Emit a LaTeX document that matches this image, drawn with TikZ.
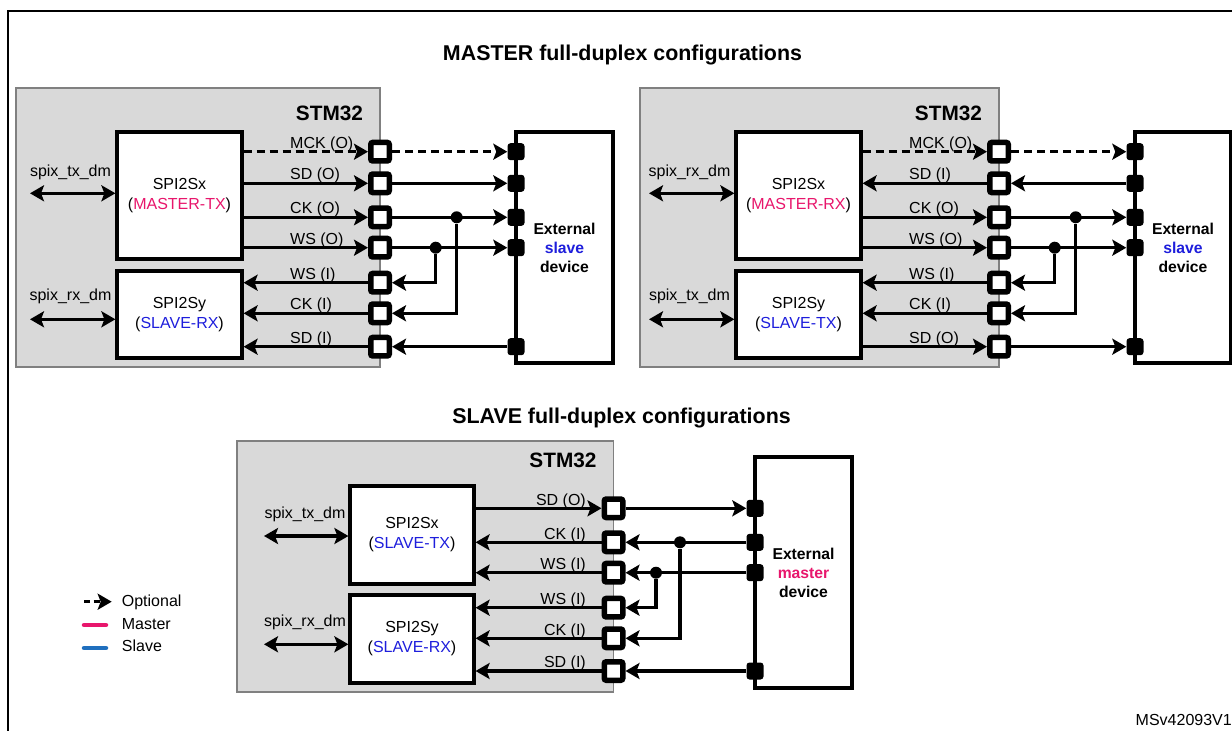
\documentclass[tikz,border=0pt]{standalone}
\usepackage{fontspec}
\setmainfont{Liberation Sans}
\usetikzlibrary{arrows.meta}
\definecolor{mpink}{RGB}{232,22,108}
\definecolor{sblue}{RGB}{30,30,220}
\definecolor{lblue}{RGB}{31,111,190}
\definecolor{chipgray}{RGB}{217,217,217}
\definecolor{chipedge}{RGB}{128,128,128}
\begin{document}
\begin{tikzpicture}[x=1pt,y=-1pt,
  every node/.style={inner sep=0pt},
  txt/.style={font=\fontsize{16}{20}\selectfont},
  heading/.style={font=\bfseries\fontsize{21.4}{25}\selectfont},
  chipname/.style={font=\bfseries\fontsize{20.8}{25}\selectfont},
  chip/.style={draw=chipedge, fill=chipgray, line width=1.2},
  spibox/.style={draw, fill=white, line width=3.2, align=center, font=\fontsize{16}{20}\selectfont},
  extbox/.style={draw, fill=white, line width=3.2, align=center, font=\bfseries\fontsize{15.7}{19}\selectfont},
  iopin/.style={draw, line width=5.5, fill=white, rounded corners=2, minimum size=18.5},
  epin/.style={fill=black, rounded corners=3, minimum size=17},
  jdot/.style={circle, fill=black, minimum size=12},
  sig/.style={line width=3.2, -{Stealth[length=14pt,width=16pt,inset=3pt]}},
  optsig/.style={sig, dash pattern=on 8pt off 5pt},
  bus/.style={line width=3.2, {Stealth[length=14pt,width=16pt,inset=3pt]}-{Stealth[length=14pt,width=16pt,inset=3pt]}},
  lblw/.style={txt, anchor=base west},
  lble/.style={txt, anchor=base east}
]
\useasboundingbox (0,0) rectangle (1232,731);
\fill[white] (0,0) rectangle (1232,731);
% frame
\draw[line width=2] (8,731) -- (8,11) -- (1232,11);

% headings
\node[heading] (H1) at (622.5,55) {MASTER full-duplex configurations};
\node[heading] (H2) at (621.5,418) {SLAVE full-duplex configurations};

%================ TOP LEFT: MASTER-TX ================
\node[chip, minimum width=364, minimum height=279] (G1) at (198,227.5) {};
\node[chipname] (N1) at (329.5,113) {STM32};
\node[spibox, minimum width=125, minimum height=127] (SX1) at (179.5,195.5) {SPI2Sx\\(\textcolor{mpink}{MASTER-TX})};
\node[spibox, minimum width=125, minimum height=87] (SY1) at (179.5,314.5) {SPI2Sy\\(\textcolor{sblue}{SLAVE-RX})};
\node[extbox, minimum width=97, minimum height=231] (X1) at (564.5,247.5) {External\\\textcolor{sblue}{slave}\\device};

\node[txt] (S1) at (70.5,172.7) {spix\_tx\_dm};
\node[txt] (S2) at (70.5,296.7) {spix\_rx\_dm};
\coordinate (B1) at (30,193.3);
\coordinate (B2) at (30,319.3);
\draw[bus] (B1) -- (SX1.west |- B1);
\draw[bus] (B2) -- (SY1.west |- B2);

\node[iopin] (P1) at (380,151.7) {};
\node[iopin] (P2) at (380,183.3) {};
\node[iopin] (P3) at (380,217.3) {};
\node[iopin] (P4) at (380,247.7) {};
\node[iopin] (P5) at (380,282.7) {};
\node[iopin] (P6) at (380,313.3) {};
\node[iopin] (P7) at (380,346.7) {};
\node[epin] (E1) at (516,151.7) {};
\node[epin] (E2) at (516,183.3) {};
\node[epin] (E3) at (516,217.3) {};
\node[epin] (E4) at (516,247.7) {};
\node[epin] (E7) at (516,346.7) {};
\node[jdot] (J1) at (456.7,217.3) {};
\node[jdot] (J2) at (435.7,247.7) {};

\draw[optsig] (SX1.east |- P1) -- (P1.west);
\draw[optsig] (P1.east) -- (E1.west);
\draw[sig] (SX1.east |- P2) -- (P2.west);
\draw[sig] (P2.east) -- (E2.west);
\draw[sig] (SX1.east |- P3) -- (P3.west);
\draw[sig] (P3.east) -- (E3.west);
\draw[sig] (SX1.east |- P4) -- (P4.west);
\draw[sig] (P4.east) -- (E4.west);
\draw[sig] (P5.west) -- (SY1.east |- P5);
\draw[sig] (J2) |- (P5.east);
\draw[sig] (P6.west) -- (SY1.east |- P6);
\draw[sig] (J1) |- (P6.east);
\draw[sig] (P7.west) -- (SY1.east |- P7);
\draw[sig] (E7.west) -- (P7.east);

\node[lblw] (L11) at (290,148) {MCK (O)};
\node[lblw] (L12) at (290,179.8) {SD (O)};
\node[lblw] (L13) at (290,213.8) {CK (O)};
\node[lblw] (L14) at (290,244.2) {WS (O)};
\node[lblw] (L15) at (290,279.2) {WS (I)};
\node[lblw] (L16) at (290,309.8) {CK (I)};
\node[lblw] (L17) at (290,343.2) {SD (I)};

%================ TOP RIGHT: MASTER-RX ================
\node[chip, minimum width=359, minimum height=279] (G2) at (819.5,227.5) {};
\node[chipname] (N2) at (948.5,113) {STM32};
\node[spibox, minimum width=125, minimum height=127] (SX2) at (798.5,195.5) {SPI2Sx\\(\textcolor{mpink}{MASTER-RX})};
\node[spibox, minimum width=125, minimum height=87] (SY2) at (798.5,314.5) {SPI2Sy\\(\textcolor{sblue}{SLAVE-TX})};
\node[extbox, minimum width=96, minimum height=231] (X2) at (1183,247.5) {External\\\textcolor{sblue}{slave}\\device};

\node[txt] (S3) at (689.5,172.7) {spix\_rx\_dm};
\node[txt] (S4) at (689.5,296.7) {spix\_tx\_dm};
\coordinate (B3) at (649,193.3);
\coordinate (B4) at (649,319.3);
\draw[bus] (B3) -- (SX2.west |- B3);
\draw[bus] (B4) -- (SY2.west |- B4);

\node[iopin] (Q1) at (999,151.7) {};
\node[iopin] (Q2) at (999,183.3) {};
\node[iopin] (Q3) at (999,217.3) {};
\node[iopin] (Q4) at (999,247.7) {};
\node[iopin] (Q5) at (999,282.7) {};
\node[iopin] (Q6) at (999,313.3) {};
\node[iopin] (Q7) at (999,346.7) {};
\node[epin] (F1) at (1135,151.7) {};
\node[epin] (F2) at (1135,183.3) {};
\node[epin] (F3) at (1135,217.3) {};
\node[epin] (F4) at (1135,247.7) {};
\node[epin] (F7) at (1135,346.7) {};
\node[jdot] (K1) at (1075.7,217.3) {};
\node[jdot] (K2) at (1054.7,247.7) {};

\draw[optsig] (SX2.east |- Q1) -- (Q1.west);
\draw[optsig] (Q1.east) -- (F1.west);
\draw[sig] (Q2.west) -- (SX2.east |- Q2);
\draw[sig] (F2.west) -- (Q2.east);
\draw[sig] (SX2.east |- Q3) -- (Q3.west);
\draw[sig] (Q3.east) -- (F3.west);
\draw[sig] (SX2.east |- Q4) -- (Q4.west);
\draw[sig] (Q4.east) -- (F4.west);
\draw[sig] (Q5.west) -- (SY2.east |- Q5);
\draw[sig] (K2) |- (Q5.east);
\draw[sig] (Q6.west) -- (SY2.east |- Q6);
\draw[sig] (K1) |- (Q6.east);
\draw[sig] (SY2.east |- Q7) -- (Q7.west);
\draw[sig] (Q7.east) -- (F7.west);

\node[lblw] (L21) at (909,148) {MCK (O)};
\node[lblw] (L22) at (909,179.8) {SD (I)};
\node[lblw] (L23) at (909,213.8) {CK (O)};
\node[lblw] (L24) at (909,244.2) {WS (O)};
\node[lblw] (L25) at (909,279.2) {WS (I)};
\node[lblw] (L26) at (909,309.8) {CK (I)};
\node[lblw] (L27) at (909,343.2) {SD (O)};

%================ BOTTOM: SLAVE ================
\node[chip, minimum width=376.5, minimum height=251] (G3) at (425.25,566.5) {};
\node[chipname] (N3) at (563,460) {STM32};
\node[spibox, minimum width=124, minimum height=98] (SX3) at (412,535) {SPI2Sx\\(\textcolor{sblue}{SLAVE-TX})};
\node[spibox, minimum width=124, minimum height=88] (SY3) at (412,639) {SPI2Sy\\(\textcolor{sblue}{SLAVE-RX})};
\node[extbox, minimum width=97, minimum height=231] (X3) at (803.5,572.5) {External\\\textcolor{mpink}{master}\\device};

\node[txt] (S5) at (305,514) {spix\_tx\_dm};
\node[txt] (S6) at (305,622.7) {spix\_rx\_dm};
\coordinate (B5) at (264,536);
\coordinate (B6) at (264,644.3);
\draw[bus] (B5) -- (SX3.west |- B5);
\draw[bus] (B6) -- (SY3.west |- B6);

\node[iopin] (R1) at (613.5,508.3) {};
\node[iopin] (R2) at (613.5,542.3) {};
\node[iopin] (R3) at (613.5,572.7) {};
\node[iopin] (R4) at (613.5,607.7) {};
\node[iopin] (R5) at (613.5,638.3) {};
\node[iopin] (R6) at (613.5,671) {};
\node[epin] (D1) at (755,508.3) {};
\node[epin] (D2) at (755,542.3) {};
\node[epin] (D3) at (755,572.7) {};
\node[epin] (D6) at (755,671) {};
\node[jdot] (M1) at (680,542.3) {};
\node[jdot] (M2) at (656,572.7) {};

\draw[sig] (SX3.east |- R1) -- (R1.west);
\draw[sig] (R1.east) -- (D1.west);
\draw[sig] (R2.west) -- (SX3.east |- R2);
\draw[sig] (D2.west) -- (R2.east);
\draw[sig] (R3.west) -- (SX3.east |- R3);
\draw[sig] (D3.west) -- (R3.east);
\draw[sig] (R4.west) -- (SY3.east |- R4);
\draw[sig] (M2) |- (R4.east);
\draw[sig] (R5.west) -- (SY3.east |- R5);
\draw[sig] (M1) |- (R5.east);
\draw[sig] (R6.west) -- (SY3.east |- R6);
\draw[sig] (D6.west) -- (R6.east);

\node[lble] (L31) at (586,505) {SD (O)};
\node[lble] (L32) at (586,539) {CK (I)};
\node[lble] (L33) at (586,569.4) {WS (I)};
\node[lble] (L34) at (586,604.4) {WS (I)};
\node[lble] (L35) at (586,635) {CK (I)};
\node[lble] (L36) at (586,667.7) {SD (I)};

%================ LEGEND ================
\coordinate (LA) at (84,601.7);
\coordinate (LB) at (111.7,601.7);
\draw[sig, dash pattern=on 6pt off 3.5pt] (LA) -- (LB);
\draw[mpink, line width=4.5, line cap=round] (84,625) -- (106,625);
\draw[lblue, line width=4.5, line cap=round] (84,648) -- (106,648);
\node[lblw] (LT1) at (121.7,606) {Optional};
\node[lblw] (LT2) at (121.7,629) {Master};
\node[lblw] (LT3) at (121.7,651.5) {Slave};

\node[lble] (ID) at (1232,725) {MSv42093V1};
\end{tikzpicture}
\end{document}
